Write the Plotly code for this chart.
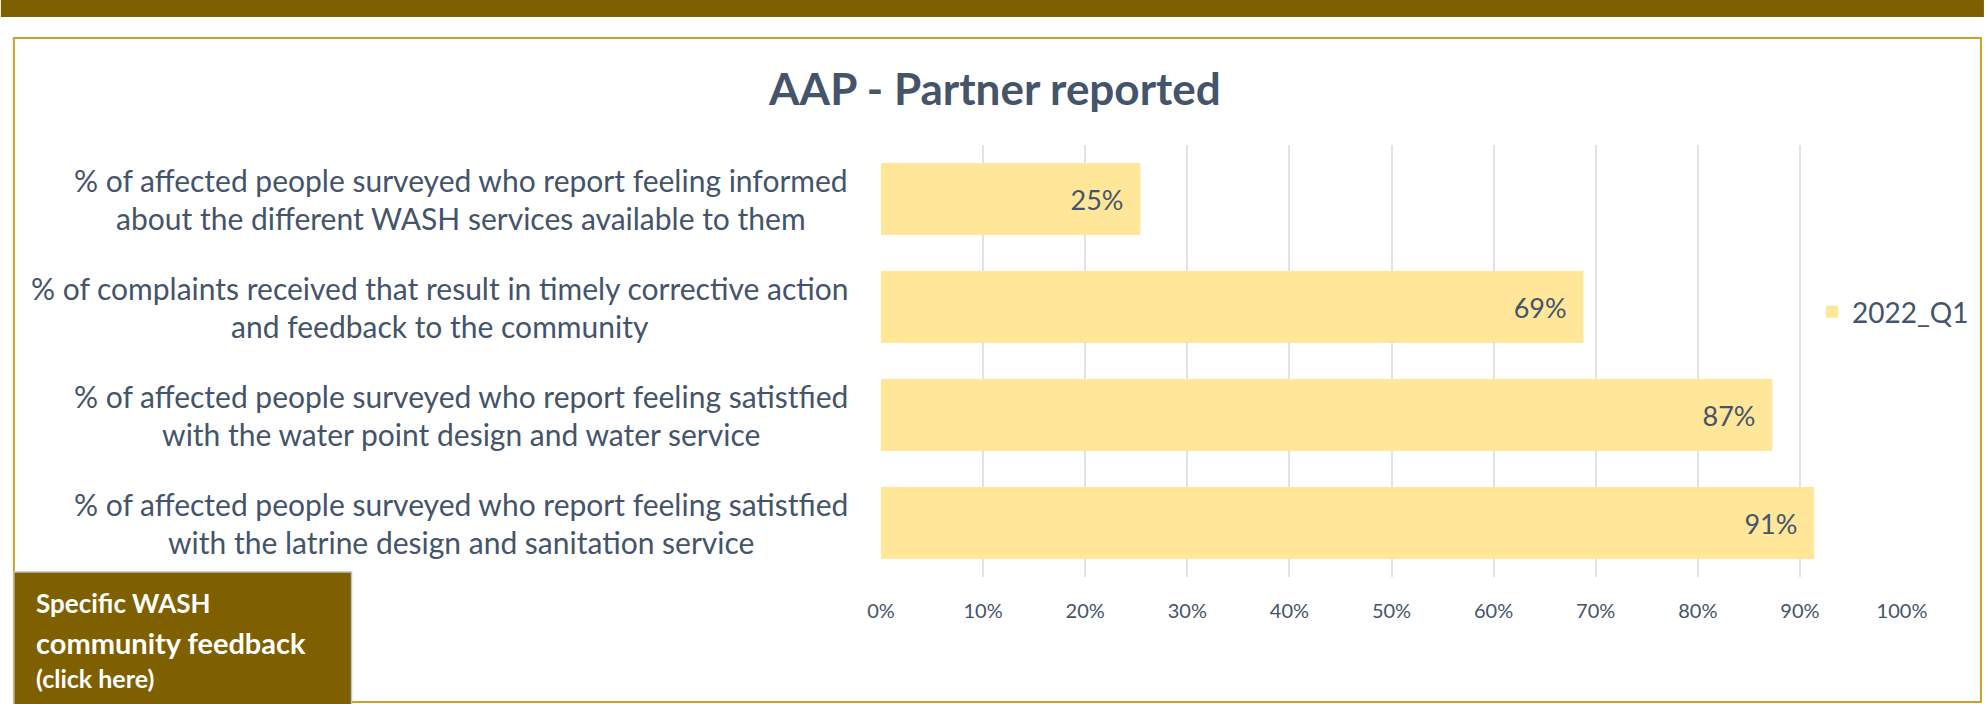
import plotly.graph_objects as go

# Chart data
categories = [
    "% of affected people surveyed who report feeling informed<br>about the different WASH services available to them",
    "% of complaints received that result in timely corrective action<br>and feedback to the community",
    "% of affected people surveyed who report feeling satistfied<br>with the water point design and water service",
    "% of affected people surveyed who report feeling satistfied<br>with the latrine design and sanitation service",
]
values_2022_q1 = [0.254, 0.688, 0.873, 0.914]
series_name = "2022_Q1"
x_tick_vals = [0.0, 0.1, 0.2, 0.3, 0.4, 0.5, 0.6, 0.7, 0.8, 0.9, 1.0]
x_tick_labels = ["0%", "10%", "20%", "30%", "40%", "50%", "60%", "70%", "80%", "90%", "100%"]

title_text = "AAP - Partner reported"
button_lines = ["Specific WASH", "community feedback", "(click here)"]

# Page geometry (pixels)
W, H = 1985, 704
PL, PR, PT, PB = 881, 1903, 145, 577

TEXT = "#44546A"
GOLD_DARK = "#7F6000"
GOLD_LINE = "#C9A227"
BAR = "#FFE699"
FONT = "Lato"


def px(x):
    return (x - PL) / (PR - PL)


def py(y):
    return (PB - y) / (PB - PT)


fig = go.Figure()

fig.add_trace(go.Bar(
    x=values_2022_q1,
    y=categories,
    orientation="h",
    name=series_name,
    marker=dict(color=BAR, line_width=0),
    text=[f"{v:.0%}\u00a0\u00a0" for v in values_2022_q1],
    textposition="inside",
    insidetextanchor="end",
    textangle=0,
    textfont=dict(family=FONT, size=27, color=TEXT),
    constraintext="none",
))

# Category labels: right-aligned block, centred lines
annotations = []
for cat in categories:
    lines = cat.split("<br>")
    txt = "<br>".join(f"<span style='font-size:30px'>{ln}</span>" for ln in lines)
    annotations.append(dict(
        text=txt, xref="paper", yref="y", x=0, y=cat,
        xanchor="right", yanchor="middle", xshift=-31,
        align="center", showarrow=False,
        font=dict(family=FONT, size=29, color=TEXT),
    ))

# "Specific WASH community feedback" button text
btn_y = [603, 642, 678]
btn_size = [26, 29, 25]
for line, yy, sz in zip(button_lines, btn_y, btn_size):
    annotations.append(dict(
        text=f"<b>{line}</b>", xref="paper", yref="paper",
        x=px(33), y=py(yy), xanchor="left", yanchor="middle",
        showarrow=False, font=dict(family=FONT, size=sz, color="white"),
    ))

shapes = [
    # top band
    dict(type="rect", xref="paper", yref="paper",
         x0=px(0), x1=px(W), y0=py(0), y1=py(17),
         fillcolor=GOLD_DARK, line_width=0, layer="above"),
    # chart border
    dict(type="rect", xref="paper", yref="paper",
         x0=px(13), x1=px(1982), y0=py(38), y1=py(702),
         line=dict(color=GOLD_LINE, width=2), layer="above"),
    # button
    dict(type="rect", xref="paper", yref="paper",
         x0=px(13), x1=px(351), y0=py(572), y1=py(706),
         fillcolor=GOLD_DARK, line=dict(color="#BFBFBF", width=1.5), layer="above"),
]

fig.update_layout(
    width=W, height=H,
    margin=dict(l=PL, r=W - PR, t=PT, b=H - PB),
    paper_bgcolor="white", plot_bgcolor="white",
    font=dict(family=FONT, color=TEXT),
    title=dict(
        text=f"<b>{title_text}</b>", x=px(995), xref="paper", xanchor="center",
        y=1 - 90 / H, yref="container", yanchor="middle",
        font=dict(family=FONT, size=44, color=TEXT),
    ),
    bargap=0.333,
    showlegend=True,
    legend=dict(
        x=px(1812), y=py(312), xanchor="left", yanchor="middle",
        bgcolor="white", font=dict(family=FONT, size=28, color=TEXT),
    ),
    xaxis=dict(
        range=[0, 1], tickvals=x_tick_vals, ticktext=x_tick_labels,
        showgrid=True, gridcolor="#DFE3EA", gridwidth=1.5,
        zeroline=False, showline=False, ticks="",
        tickfont=dict(family=FONT, size=20, color=TEXT),
        ticklabelstandoff=20,
    ),
    yaxis=dict(
        autorange="reversed", showticklabels=False, showgrid=False,
        zeroline=False, showline=False,
    ),
    annotations=annotations,
    shapes=shapes,
)

fig.write_html(
    "out.html",
    config={"displayModeBar": False},
    post_script="document.body.style.margin='0';",
)
